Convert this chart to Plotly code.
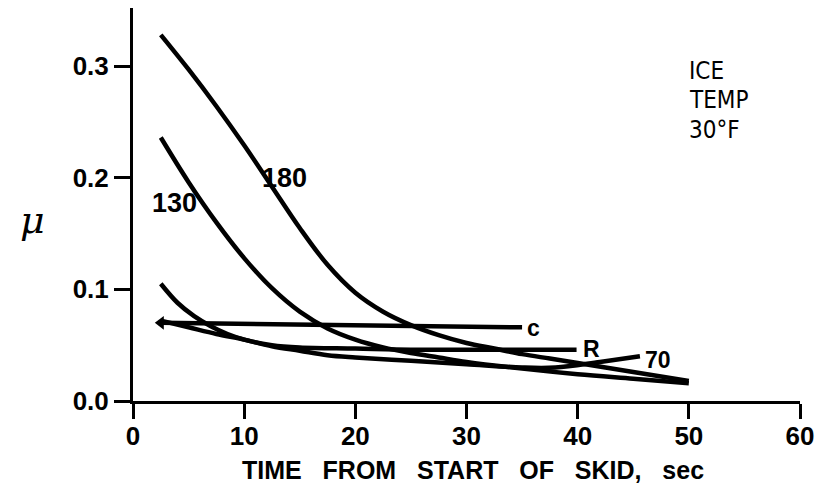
import plotly.graph_objects as go

# ---- data ----
x180 = [2.5, 5, 7.5, 10, 12.5, 15, 17.5, 20, 22.5, 25, 27.5, 30, 32.5, 35, 37.5, 40, 42.5, 45, 47.5, 50]
y180 = [0.328, 0.297, 0.264, 0.229, 0.192, 0.155, 0.122, 0.097, 0.080, 0.068, 0.059, 0.052, 0.047, 0.042, 0.038, 0.034, 0.030, 0.026, 0.022, 0.018]

x130 = [2.5, 5, 7.5, 10, 12.5, 15, 17.5, 20, 22.5, 25, 27.5, 30, 35, 40, 45, 50]
y130 = [0.236, 0.196, 0.160, 0.128, 0.101, 0.080, 0.065, 0.055, 0.048, 0.043, 0.039, 0.035, 0.029, 0.024, 0.020, 0.016]

x70 = [2.5, 5, 7.5, 10, 12.5, 15, 17.5, 20, 25, 30, 35, 38, 42, 45.6]
y70 = [0.072, 0.066, 0.060, 0.055, 0.049, 0.045, 0.041, 0.039, 0.036, 0.033, 0.030, 0.030, 0.035, 0.040]

xR = [2.5, 4, 5.5, 7, 8.5, 10, 12.5, 15, 20, 25, 30, 35, 39.9]
yR = [0.105, 0.088, 0.076, 0.067, 0.060, 0.055, 0.050, 0.048, 0.047, 0.046, 0.046, 0.046, 0.046]

xC = [2.5, 35]
yC = [0.070, 0.066]

curve_labels = ["180", "130", "c", "R", "70"]
label_x = [13.6, 3.7, 35.3, 40.3, 45.9]
label_y = [0.200, 0.177, 0.065, 0.0466, 0.0365]

x_ticks = [0, 10, 20, 30, 40, 50, 60]
y_ticks = [0.0, 0.1, 0.2, 0.3]
y_tick_text = ["0.0", "0.1", "0.2", "0.3"]

note_lines = ["ICE", "TEMP", "30°F"]

# ---- figure ----
fig = go.Figure()
line_style = dict(color="black", width=4.5, shape="spline", smoothing=1.0)
for xs, ys in [(x180, y180), (x130, y130), (x70, y70), (xR, yR), (xC, yC)]:
    fig.add_trace(go.Scatter(x=xs, y=ys, mode="lines", line=line_style,
                             hoverinfo="skip", showlegend=False))

# wedge at common start of c and 70
fig.add_trace(go.Scatter(x=[xC[0]], y=[yC[0]], mode="markers",
                         marker=dict(symbol="triangle-left", size=12, color="black"),
                         hoverinfo="skip", showlegend=False))

font_main = dict(family="Liberation Sans, Arial, sans-serif", color="black", weight="bold")

for t, lx, ly in zip(curve_labels, label_x, label_y):
    xa = "center" if t in ("180", "130") else "left"
    size = 27 if t in ("180", "130") else 23
    fig.add_annotation(x=lx, y=ly, text=t, showarrow=False, xanchor=xa, yanchor="middle",
                       font=dict(size=size, **font_main))

for i, t in enumerate(note_lines):
    fig.add_annotation(x=49.8, y=0.296 - i * 0.0268, text=t, showarrow=False,
                       xanchor="left", yanchor="middle",
                       font=dict(size=24, family="DejaVu Sans Condensed, DejaVu Sans, sans-serif",
                                 color="black"))

# axis titles
sp = "\u00a0\u00a0\u00a0"
fig.add_annotation(xref="paper", yref="paper", x=0.51, y=-0.176,
                   text=sp.join(["TIME", "FROM", "START", "OF", "SKID,", "sec"]),
                   showarrow=False, xanchor="center", yanchor="middle",
                   font=dict(size=25, **font_main))
fig.add_annotation(xref="paper", yref="y", x=-0.151, y=0.162, text="<i>μ</i>",
                   showarrow=False, xanchor="center", yanchor="middle",
                   font=dict(size=38, family="DejaVu Serif, serif", color="black"))

fig.update_xaxes(range=[0, 60], tickvals=x_ticks, ticks="outside", ticklen=15, tickwidth=2.5,
                 tickcolor="black", showline=True, linewidth=3, linecolor="black",
                 showgrid=False, zeroline=False, ticklabelstandoff=-5,
                 tickfont=dict(size=26, **font_main))
fig.update_yaxes(range=[0, 0.352], tickvals=y_ticks, ticktext=y_tick_text, ticks="outside",
                 ticklen=16, tickwidth=2.5, tickcolor="black", showline=True, linewidth=3,
                 linecolor="black", showgrid=False, zeroline=False,
                 tickfont=dict(size=26, **font_main))

fig.update_layout(width=822, height=493, margin=dict(l=133, r=20, t=8, b=92),
                  plot_bgcolor="white", paper_bgcolor="white")

fig.write_html("out.html")
